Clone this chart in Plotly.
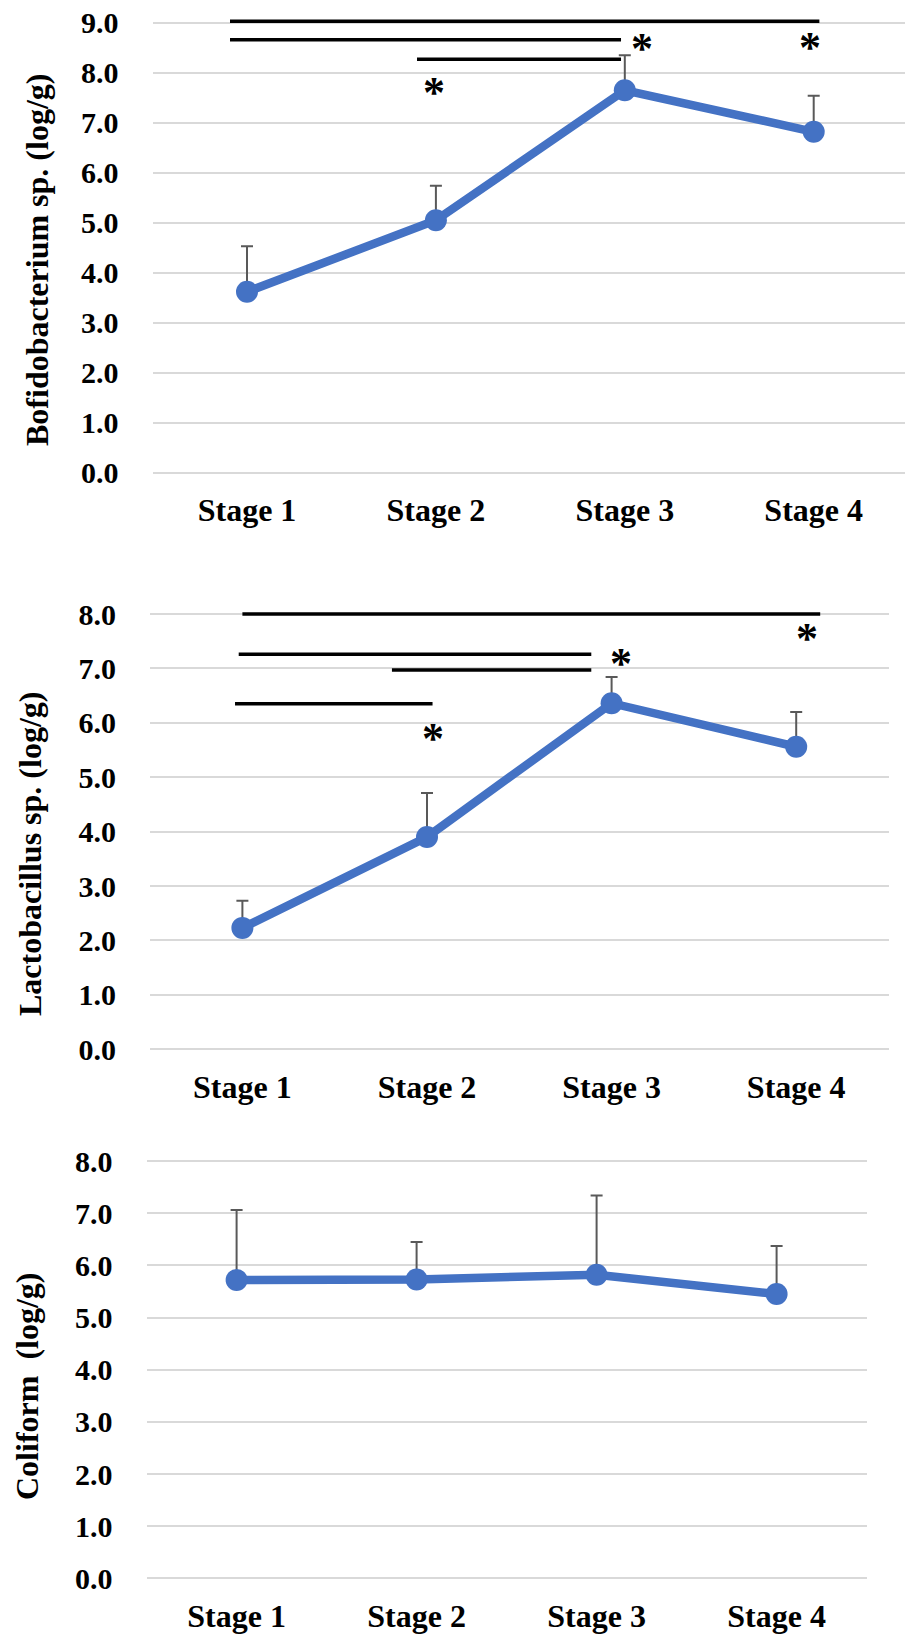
import plotly.graph_objects as go

# ---- data (log/g) -------------------------------------------------------
stages = ["Stage 1", "Stage 2", "Stage 3", "Stage 4"]
stage_idx = [0, 1, 2, 3]

bifido_mean = [3.62, 5.05, 7.65, 6.82]
bifido_sd = [0.91, 0.69, 0.70, 0.72]

lacto_mean = [2.23, 3.90, 6.36, 5.56]
lacto_sd = [0.50, 0.81, 0.48, 0.64]

coli_mean = [5.72, 5.73, 5.82, 5.45]
coli_sd = [1.34, 0.72, 1.52, 0.92]

# significance brackets: (from stage, to stage, height) and asterisks (stage, height)
bifido_brackets = [(-0.09, 3.03, 9.03), (-0.09, 1.98, 8.66), (0.90, 1.98, 8.27)]
bifido_stars = [(2.09, 8.59), (2.98, 8.61), (0.99, 7.70)]
lacto_brackets = [(0.00, 3.13, 8.00), (-0.02, 1.89, 7.26), (0.81, 1.89, 6.97), (-0.04, 1.03, 6.35)]
lacto_stars = [(3.06, 7.65), (2.05, 7.19), (1.03, 5.81)]

y_titles = ["Bofidobacterium sp. (log/g)", "Lactobacillus sp. (log/g)", "Coliform  (log/g)"]

# ---- page geometry ------------------------------------------------------
W, H = 905, 1641
FONT = "Liberation Serif"
BLUE = "#4472C4"
GRID = "#D9D9D9"

# per panel: first-stage x px, px per stage, right x-range, zero y px, px per unit, top y-range
panels = [
    dict(x0=247.0, ppx=188.9, xhi=3.483, z=472.8, ppy=50.0, yhi=9.3, ymax_tick=9,
         title_x=37, title_y=260),
    dict(x0=242.4, ppx=184.6, xhi=3.5, z=1049.2, ppy=54.4, yhi=8.3, ymax_tick=8,
         title_x=30, title_y=854),
    dict(x0=236.6, ppx=180.0, xhi=3.5, z=1578.3, ppy=52.15, yhi=8.05, ymax_tick=8,
         title_x=27, title_y=1386),
]
YLO = -0.03

series = [(bifido_mean, bifido_sd), (lacto_mean, lacto_sd), (coli_mean, coli_sd)]
brackets = [bifido_brackets, lacto_brackets, []]
stars = [bifido_stars, lacto_stars, []]

fig = go.Figure()
layout = dict(
    width=W, height=H, margin=dict(l=0, r=0, t=0, b=0, pad=0, autoexpand=False),
    paper_bgcolor="white", plot_bgcolor="white", showlegend=False,
    shapes=[], annotations=[],
)

for i, p in enumerate(panels):
    n = "" if i == 0 else str(i + 1)
    xa, ya = "x" + n, "y" + n
    left = p["x0"] - 0.5 * p["ppx"]
    right = p["x0"] + p["xhi"] * p["ppx"]
    bottom = p["z"] - YLO * p["ppy"]
    top = p["z"] - p["yhi"] * p["ppy"]

    layout["xaxis" + n] = dict(
        domain=[left / W, min(right / W, 1.0)], range=[-0.5, p["xhi"]],
        anchor=ya, tickvals=stage_idx, ticktext=stages, showgrid=False,
        zeroline=False, showline=False, ticks="", ticklabelstandoff=14,
        automargin=False,
        tickfont=dict(family=FONT, size=32, color="black", weight="bold"),
    )
    layout["yaxis" + n] = dict(
        domain=[1 - bottom / H, 1 - top / H], range=[YLO, p["yhi"]],
        anchor=xa, tickvals=list(range(0, p["ymax_tick"] + 1)),
        tickformat=".1f", showgrid=True, gridcolor=GRID, gridwidth=2,
        zeroline=False, showline=False, ticks="", ticklabelstandoff=33,
        automargin=False,
        tickfont=dict(family=FONT, size=30, color="black", weight="bold"),
    )

    mean, sd = series[i]
    fig.add_trace(go.Scatter(
        x=stage_idx, y=mean, xaxis=xa, yaxis=ya, mode="lines+markers",
        line=dict(color=BLUE, width=8.5),
        marker=dict(color=BLUE, size=22),
        error_y=dict(type="data", symmetric=False, array=sd,
                     arrayminus=[0] * len(sd), color="#595959",
                     thickness=2, width=6),
        cliponaxis=False,
    ))

    for (a, b, h) in brackets[i]:
        layout["shapes"].append(dict(
            type="line", xref=xa, yref=ya, x0=a, x1=b, y0=h, y1=h,
            line=dict(color="black", width=3.5),
        ))
    for (sx, sy) in stars[i]:
        layout["annotations"].append(dict(
            x=sx, y=sy, xref=xa, yref=ya, text="*", showarrow=False,
            xanchor="center", yanchor="middle", yshift=-5,
            font=dict(family=FONT, size=44, color="black", weight="bold"),
        ))

    layout["annotations"].append(dict(
        x=p["title_x"] / W, y=1 - p["title_y"] / H, xref="paper", yref="paper",
        text=y_titles[i], textangle=-90, showarrow=False,
        xanchor="center", yanchor="middle",
        font=dict(family=FONT, size=32, color="black", weight="bold"),
    ))

fig.update_layout(**layout)
fig.write_html("out.html")
